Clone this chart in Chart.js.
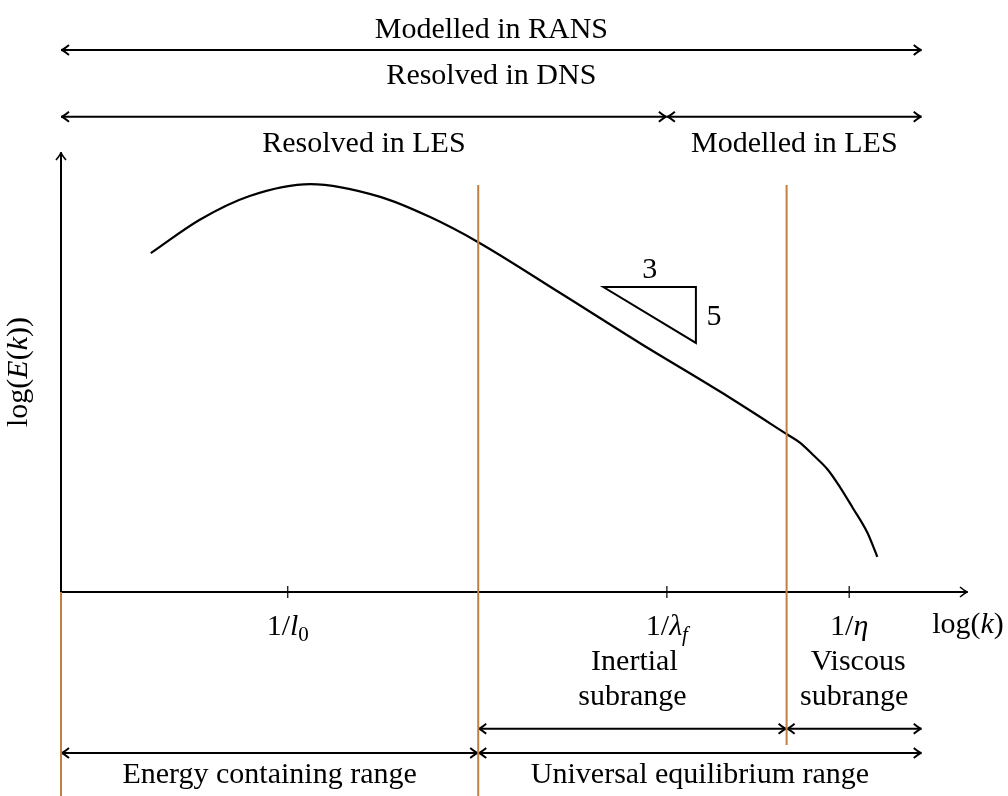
<!DOCTYPE html>
<html>
<head>
<meta charset="utf-8">
<script src="https://cdn.jsdelivr.net/npm/chart.js@4/dist/chart.umd.min.js"></script>
<style>
  html, body { margin: 0; padding: 0; background: #ffffff; }
  #wrap { width: 1008px; height: 796px; }
</style>
</head>
<body>
<div id="wrap"><canvas id="c" width="1008" height="796"></canvas></div>
<script>
// ---- data (log k, log E(k)) ----
const kValues      = [0.99, 1.53, 2.08, 2.75, 3.52, 4.07, 4.60, 5.50, 6.38, 7.27, 8.00, 8.15, 8.29, 8.45, 8.59, 8.73, 8.89, 9.00];
const energyValues = [7.70, 8.46, 9.00, 9.27, 8.98, 8.52, 7.95, 6.80, 5.66, 4.55, 3.59, 3.39, 3.12, 2.79, 2.38, 1.91, 1.35, 0.80];

// ---- x-axis tick positions and labels ----
const tickValues = [2.50, 6.68, 8.69];
const tickLabels = [
  [{t: '1/'}, {t: 'l', i: true}, {t: '0', sub: true}],
  [{t: '1/'}, {t: 'λ', i: true}, {t: 'f', i: true, sub: true}],
  [{t: '1/'}, {t: 'η', i: true}]
];

// ---- range boundaries (log k) ----
const rangeBounds = [0.00, 4.60, 8.00];
const lambdaF = 6.68;
const rangeEnd = 9.49;

// ---- range labels ----
const topLabels    = ['Modelled in RANS', 'Resolved in DNS', 'Resolved in LES', 'Modelled in LES'];
const bottomLabels = ['Energy containing range', 'Universal equilibrium range'];
const subLabels    = [['Inertial', 'subrange'], ['Viscous', 'subrange']];
const slopeLabels  = ['3', '5'];

const FONT = "'Liberation Serif', 'DejaVu Serif', serif";
const FS = 30;

function richWidth(ctx, segs, size) {
  let w = 0;
  for (const s of segs) {
    const sz = s.sub ? size * 0.7 : size;
    ctx.font = (s.i ? 'italic ' : '') + sz + 'px ' + FONT;
    w += ctx.measureText(s.t).width;
  }
  return w;
}
function drawRich(ctx, segs, cx, y, size) {
  const w = richWidth(ctx, segs, size);
  let x = cx - w / 2;
  ctx.textBaseline = 'alphabetic';
  ctx.textAlign = 'left';
  for (const s of segs) {
    const sz = s.sub ? size * 0.7 : size;
    ctx.font = (s.i ? 'italic ' : '') + sz + 'px ' + FONT;
    ctx.fillText(s.t, x, y + (s.sub ? 6 : 0));
    x += ctx.measureText(s.t).width;
  }
}
function arrowHead(ctx, x, y, dx, dy) {
  const L = 8, W = 5;
  const n = Math.hypot(dx, dy); dx /= n; dy /= n;
  const px = -dy, py = dx;
  ctx.beginPath();
  ctx.moveTo(x - dx * L + px * W, y - dy * L + py * W);
  ctx.quadraticCurveTo(x - dx * 2, y - dy * 2, x, y);
  ctx.quadraticCurveTo(x - dx * 2, y - dy * 2, x - dx * L - px * W, y - dy * L - py * W);
  ctx.stroke();
}
function dblArrow(ctx, x1, x2, y) {
  ctx.beginPath();
  ctx.moveTo(x1 + 1, y); ctx.lineTo(x2 - 1, y);
  ctx.stroke();
  arrowHead(ctx, x1, y, -1, 0);
  arrowHead(ctx, x2, y, 1, 0);
}

const decor = {
  id: 'decor',
  beforeDatasetsDraw(chart) {
    const ctx = chart.ctx, xs = chart.scales.x, ys = chart.scales.y;
    const X = v => xs.getPixelForValue(v), Y = v => ys.getPixelForValue(v);
    ctx.save();
    ctx.strokeStyle = '#000'; ctx.fillStyle = '#000';
    ctx.lineWidth = 2; ctx.lineCap = 'butt';
    ctx.beginPath();
    ctx.moveTo(X(0), Y(0)); ctx.lineTo(X(10) - 1, Y(0));
    ctx.moveTo(X(0), Y(0)); ctx.lineTo(X(0), Y(10) + 1);
    ctx.stroke();
    ctx.lineWidth = 1.6;
    arrowHead(ctx, X(10), Y(0), 1, 0);
    arrowHead(ctx, X(0), Y(10), 0, -1);
    ctx.lineWidth = 1.2;
    tickValues.forEach((v, i) => {
      ctx.beginPath(); ctx.moveTo(X(v), Y(0) - 6); ctx.lineTo(X(v), Y(0) + 6); ctx.stroke();
      drawRich(ctx, tickLabels[i], X(v), Y(-0.98), FS);
    });
    drawRich(ctx, [{t: 'log('}, {t: 'k', i: true}, {t: ')'}], X(10.0), Y(-0.93), FS);
    ctx.save();
    ctx.translate(X(-0.38), Y(5));
    ctx.rotate(-Math.PI / 2);
    drawRich(ctx, [{t: 'log('}, {t: 'E', i: true}, {t: '('}, {t: 'k', i: true}, {t: '))'}], 0, 0, FS);
    ctx.restore();
    ctx.restore();
  },
  afterDatasetsDraw(chart) {
    const ctx = chart.ctx, xs = chart.scales.x, ys = chart.scales.y;
    const X = v => xs.getPixelForValue(v), Y = v => ys.getPixelForValue(v);
    ctx.save();
    ctx.strokeStyle = '#000'; ctx.fillStyle = '#000';
    ctx.lineWidth = 2; ctx.lineJoin = 'miter';
    ctx.beginPath();
    ctx.moveTo(X(5.98), Y(6.93)); ctx.lineTo(X(7.00), Y(6.93)); ctx.lineTo(X(7.00), Y(5.66)); ctx.closePath();
    ctx.stroke();
    drawRich(ctx, [{t: slopeLabels[0]}], X(6.49), Y(7.14), FS);
    drawRich(ctx, [{t: slopeLabels[1]}], X(7.20), Y(6.07), FS);

    ctx.lineWidth = 2;
    drawRich(ctx, [{t: topLabels[0]}], (X(rangeBounds[0]) + X(rangeEnd)) / 2, Y(12.59), FS);
    dblArrow(ctx, X(rangeBounds[0]), X(rangeEnd), Y(12.32));
    drawRich(ctx, [{t: topLabels[1]}], (X(rangeBounds[0]) + X(rangeEnd)) / 2, Y(11.55), FS);
    dblArrow(ctx, X(rangeBounds[0]), X(lambdaF), Y(10.80));
    dblArrow(ctx, X(lambdaF), X(rangeEnd), Y(10.80));
    drawRich(ctx, [{t: topLabels[2]}], (X(rangeBounds[0]) + X(lambdaF)) / 2, Y(10.0), FS);
    drawRich(ctx, [{t: topLabels[3]}], (X(lambdaF) + X(rangeEnd)) / 2, Y(10.0), FS);

    drawRich(ctx, [{t: subLabels[0][0]}], (X(rangeBounds[1]) + X(rangeBounds[2])) / 2 + 2, Y(-1.77), FS);
    drawRich(ctx, [{t: subLabels[0][1]}], (X(rangeBounds[1]) + X(rangeBounds[2])) / 2, Y(-2.57), FS);
    drawRich(ctx, [{t: subLabels[1][0]}], (X(rangeBounds[2]) + X(rangeEnd)) / 2 + 4, Y(-1.77), FS);
    drawRich(ctx, [{t: subLabels[1][1]}], (X(rangeBounds[2]) + X(rangeEnd)) / 2, Y(-2.57), FS);
    dblArrow(ctx, X(rangeBounds[1]), X(rangeBounds[2]), Y(-3.11));
    dblArrow(ctx, X(rangeBounds[2]), X(rangeEnd), Y(-3.11));

    dblArrow(ctx, X(rangeBounds[0]), X(rangeBounds[1]), Y(-3.66));
    dblArrow(ctx, X(rangeBounds[1]), X(rangeEnd), Y(-3.66));
    drawRich(ctx, [{t: bottomLabels[0]}], (X(rangeBounds[0]) + X(rangeBounds[1])) / 2, Y(-4.34), FS);
    drawRich(ctx, [{t: bottomLabels[1]}], (X(rangeBounds[1]) + X(rangeEnd)) / 2, Y(-4.34), FS);

    ctx.strokeStyle = '#bf8040';
    ctx.lineWidth = 2;
    ctx.beginPath();
    ctx.moveTo(X(rangeBounds[0]), Y(0)); ctx.lineTo(X(rangeBounds[0]), Y(-5));
    ctx.moveTo(X(rangeBounds[1]), Y(9.25)); ctx.lineTo(X(rangeBounds[1]), Y(-5));
    ctx.moveTo(X(rangeBounds[2]), Y(9.25)); ctx.lineTo(X(rangeBounds[2]), Y(-3.48));
    ctx.stroke();
    ctx.restore();
  }
};

new Chart(document.getElementById('c'), {
  type: 'scatter',
  data: {
    datasets: [{
      label: 'E(k)',
      data: kValues.map((k, i) => ({x: k, y: energyValues[i]})),
      showLine: true,
      borderColor: '#000',
      borderWidth: 2.2,
      pointRadius: 0,
      cubicInterpolationMode: 'monotone',
      fill: false
    }]
  },
  options: {
    responsive: false,
    devicePixelRatio: 1,
    animation: false,
    layout: { padding: { left: 61, right: 40, top: 152, bottom: 204 } },
    plugins: { legend: { display: false }, tooltip: { enabled: false } },
    scales: {
      x: { type: 'linear', min: 0, max: 10, display: false },
      y: { type: 'linear', min: 0, max: 10, display: false }
    }
  },
  plugins: [decor]
});
</script>
</body>
</html>
